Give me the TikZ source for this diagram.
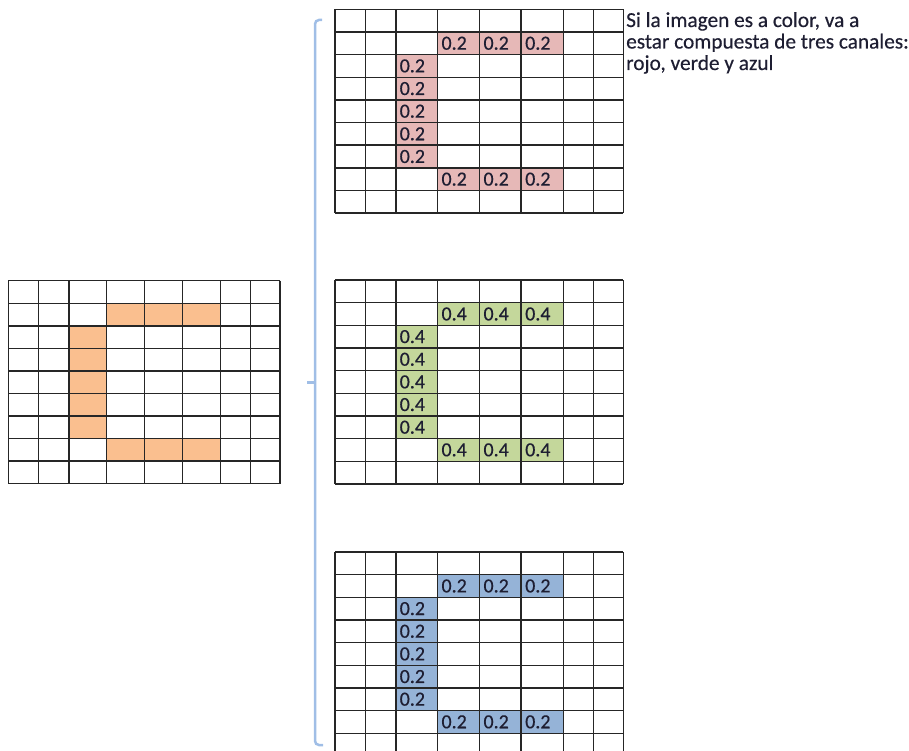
\documentclass[tikz,border=0pt]{standalone}
\usepackage{fontspec}
\setmainfont{Carlito}[FakeBold=0.4]
\definecolor{pinkc}{RGB}{230,184,183}
\definecolor{greenc}{RGB}{196,215,155}
\definecolor{bluec}{RGB}{149,179,215}
\definecolor{orangec}{RGB}{250,191,143}
\definecolor{bracec}{RGB}{160,190,230}
\definecolor{txtc}{RGB}{30,30,50}
\tikzset{
  gridline/.style={draw=black!85, line width=1.4pt},
  cell/.style={anchor=west, inner sep=0pt, text=txtc, font=\fontsize{20}{20}\selectfont},
  note/.style={anchor=base west, inner sep=0pt, text=txtc, font=\fontsize{21.3}{21}\selectfont},
  bracket/.style={draw=bracec, line width=2.5pt, rounded corners=4pt}
}
\newcommand\rgrid[4]{%
 \begin{scope}[shift={(0,#1)}]
  \fill[#2] (437.3,22.65) rectangle (563.3,45.3);
  \fill[#2] (396,45.3) rectangle (437.3,158.55);
  \fill[#2] (437.3,158.55) rectangle (563.3,181.2);
  \foreach \k in {0,...,9} \draw[gridline] (335,\k*22.65) -- (623.3,\k*22.65);
  \foreach \x in {335,365.7,396,437.3,479.3,521,563.3,593.3,623.3} \draw[gridline] (\x,0) -- (\x,203.85);
  \foreach \x/\i in {437.3/4,479.3/5,521/6} {
    \node[cell] (#4-a\i) at (\x+4,33.97) {#3};
    \node[cell] (#4-b\i) at (\x+4,169.87) {#3};
  }
  \foreach \k in {2,...,6} \node[cell] (#4-c\k) at (399.5,\k*22.65+11.32) {#3};
 \end{scope}}
\begin{document}
\begin{tikzpicture}[x=1pt,y=-1pt]
\useasboundingbox (0,0) rectangle (909,751);
\clip (0,0) rectangle (909,751);
% left image grid
\begin{scope}[shift={(0,280.7)}]
  \fill[orangec] (106.7,22.56) rectangle (220.3,45.12);
  \fill[orangec] (69,45.12) rectangle (106.7,157.92);
  \fill[orangec] (106.7,157.92) rectangle (220.3,180.48);
  \foreach \k in {0,...,9} \draw[gridline] (8.3,\k*22.56) -- (280,\k*22.56);
  \foreach \x in {8.3,38.3,69,106.7,144.7,182.3,220.3,250.7,280} \draw[gridline] (\x,0) -- (\x,203);
\end{scope}
% channel grids
\rgrid{9.3}{pinkc}{0.2}{r}
\rgrid{280}{greenc}{0.4}{g}
\rgrid{552}{bluec}{0.2}{b}
% bracket
\coordinate (bt) at (322,20);
\coordinate (bb) at (323,745);
\coordinate (bm) at (315,382.7);
\coordinate (bl) at (307,382.7);
\draw[bracket] (bt) -| (bm) |- (bb);
\draw[bracket] (bm) -- (bl);
% note
\node[note] (t1) at (626,27) {Si la imagen es a color, va a};
\node[note] (t2) at (626,48.5) {estar compuesta de tres canales:};
\node[note] (t3) at (626,70) {rojo, verde y azul};
\end{tikzpicture}
\end{document}
